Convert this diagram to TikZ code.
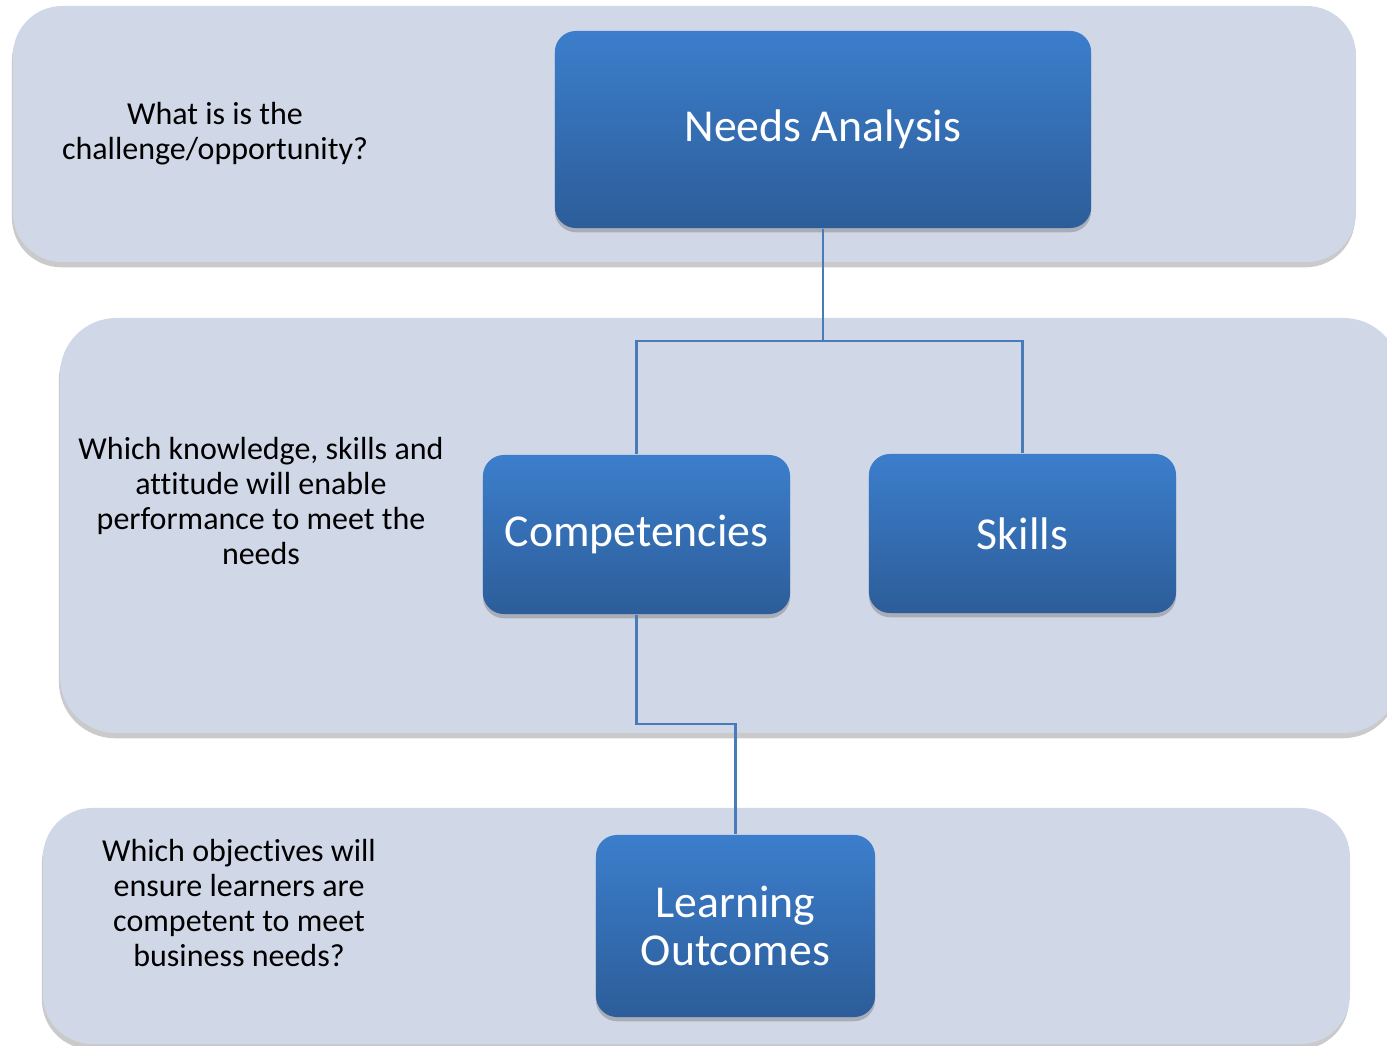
\documentclass[tikz,border=0pt]{standalone}
\usepackage{fontspec}
\setmainfont[Ligatures=NoCommon]{Carlito}
\usetikzlibrary{calc, positioning, shadows}
\definecolor{bandfill}{HTML}{D0D8E8}
\definecolor{boxtop}{HTML}{3C7ECC}
\definecolor{boxbot}{HTML}{2C5D99}
\definecolor{linkcol}{HTML}{4A7BB9}

\tikzset{
  band/.style={fill=bandfill, draw=none, rounded corners=14pt,
    drop shadow={shadow xshift=-0.3pt, shadow yshift=-1.5pt, opacity=0.35, fill=black!60}},
  stepbox/.style={draw=none, rounded corners=6pt, top color=boxtop, bottom color=boxbot,
    text=white, align=center, font=\fontsize{13}{13.8}\selectfont, inner sep=0pt,
    drop shadow={shadow xshift=0pt, shadow yshift=-1.2pt, opacity=0.3, fill=black!70}},
  question/.style={align=center, font=\fontsize{9.1}{10}\selectfont, text=black},
  link/.style={draw=linkcol, line width=0.6pt},
}

\begin{document}
\begin{tikzpicture}[x=0.01cm, y=-0.01cm]
        \useasboundingbox (0,0) rectangle (1387,1046);
        \clip (0,0) rectangle (1387,1046);
        % background bands
        \fill[band] (13,6) rectangle (1356,262);
        \fill[band, rounded corners=16pt] (60,318) rectangle (1400,733);
        \fill[band] (43,808) rectangle (1350,1044);
        % questions
        \node[question] (q1) at (215,134) {What is is the\\challenge/opportunity?};
        \node[question] (q2) at (261,501) {Which knowledge, skills and\\attitude will enable\\performance to meet the\\needs};
        \node[question] (q3) at (239,903) {Which objectives will\\ensure learners are\\competent to meet\\business needs?};
        % boxes
        \node[stepbox, minimum width=5.36cm, minimum height=1.97cm] (needs) at (823,129.5) {Needs Analysis};
        \node[stepbox, minimum width=3.07cm, minimum height=1.59cm] (comp) at (636.5,534.5) {Competencies};
        \node[stepbox, minimum width=3.07cm, minimum height=1.59cm] (skills) at (1022.5,533.5) {Skills};
        \node[stepbox, minimum width=2.79cm, minimum height=1.82cm] (learn) at (735.5,926) {Learning\\Outcomes};
        % connectors
        \coordinate (split) at (823,341);
        \coordinate (bend) at (636.5,724);
        \draw[link] (needs.south) -- (split) -| (comp.north);
        \draw[link] (split) -| (skills.north);
        \draw[link] (comp.south) -- (bend) -| (learn.north);
\end{tikzpicture}
\end{document}
